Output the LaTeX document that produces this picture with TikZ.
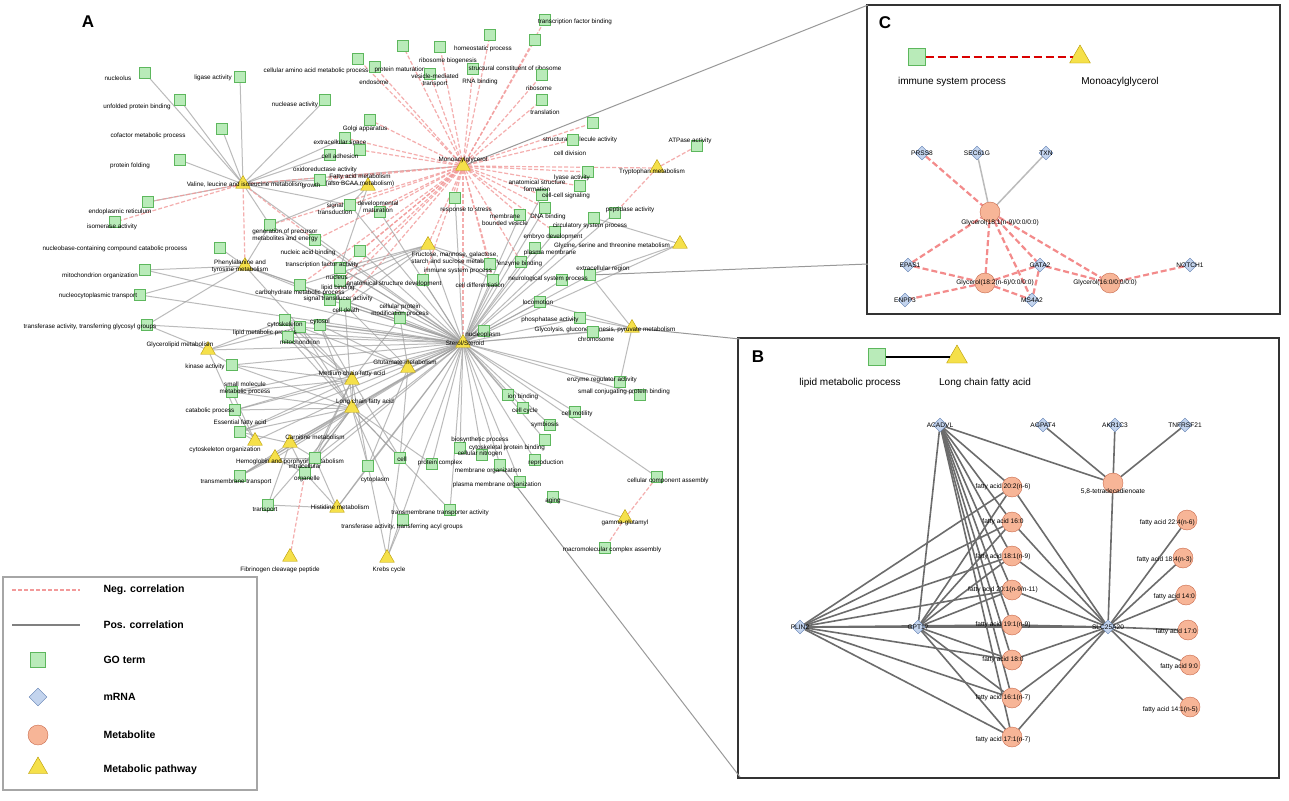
\documentclass[tikz,border=0pt]{standalone}
\usepackage{fontspec}
\setmainfont{Liberation Sans}
\usetikzlibrary{shapes.geometric}
\pgfdeclarelayer{bg}\pgfdeclarelayer{back}\pgfsetlayers{back,bg,main}
\definecolor{gofill}{HTML}{B9EBB9}\definecolor{godraw}{HTML}{5DB75D}
\definecolor{trifill}{HTML}{F5E04A}\definecolor{tridraw}{HTML}{B89A00}
\definecolor{mfill}{HTML}{F7B597}\definecolor{mdraw}{HTML}{C8694A}
\definecolor{dfill}{HTML}{C3D4EE}\definecolor{ddraw}{HTML}{5C7DB0}
\definecolor{negc}{HTML}{F29A9A}
\tikzset{
 go/.style={draw=godraw,fill=gofill,minimum size=11pt,inner sep=0pt},
 tri/.style={regular polygon,regular polygon sides=3,draw=tridraw,fill=trifill,minimum size=17pt,inner sep=0pt},
 met/.style={circle,draw=mdraw,fill=mfill,minimum size=20pt,inner sep=0pt},
 mrna/.style={diamond,draw=ddraw,fill=dfill,minimum size=14pt,inner sep=0pt},
 lbl/.style={font=\fontsize{6.3}{7}\selectfont,align=center,inner sep=0pt},
 posc/.style={draw=gray!75,line width=1pt,opacity=.7},
 neg/.style={draw=negc,dash pattern=on 4pt off 2pt,line width=1.2pt,opacity=.8},
 posB/.style={draw=gray!85!black,line width=1.6pt},
 negC/.style={draw=negc!90!red,dash pattern=on 6pt off 3pt,line width=2.2pt},
 big/.style={font=\bfseries\fontsize{17}{17}\selectfont},
 leg/.style={font=\bfseries\fontsize{10.5}{12}\selectfont,anchor=west},
 box/.style={draw=black!80,line width=1.3pt,fill=white}
}
\newcommand\gt[6]{\node[go](#1) at (#2,#3){};\node[lbl] at (#4,#5){#6};}
\newcommand\pw[6]{\node[tri](#1) at (#2,#3){};\node[lbl] at (#4,#5){#6};}
\begin{document}
\begin{tikzpicture}[x=1pt,y=-1pt]
\useasboundingbox (0,0) rectangle (1289,800);
\begin{pgfonlayer}{back}
\fill[white] (0,0) rectangle (1289,800);
\draw[box] (738,338) rectangle (1279,778);
\draw[box] (867,5) rectangle (1280,314);
\end{pgfonlayer}
% ---------- Panel A nodes
\pw{M}{463}{166}{463}{160}{Monoacylglycerol}
\pw{V}{243}{184}{245}{185}{Valine, leucine and isoleucine metabolism}
\pw{T}{657}{168}{652}{172}{Tryptophan metabolism}
\pw{P}{245}{266}{240}{266}{Phenylalanine and\\tyrosine metabolism}
\pw{G}{680}{244}{612}{246}{Glycine, serine and threonine metabolism}
\pw{F}{428}{245}{455}{258}{Fructose, mannose, galactose,\\starch and sucrose metabolism}
\pw{FA}{368}{186}{360}{180}{Fatty acid metabolism\\(also BCAA metabolism)}
\pw{S}{463}{343}{465}{343}{Sterol/Steroid}
\pw{GL}{632}{328}{605}{330}{Glycolysis, gluconeogenesis, pyruvate metabolism}
\pw{GM}{208}{350}{180}{345}{Glycerolipid metabolism}
\pw{GU}{408}{368}{405}{362}{Glutamate metabolism}
\pw{MC}{352}{380}{352}{374}{Medium chain fatty acid}
\pw{LC}{352}{408}{365}{402}{Long chain fatty acid}
\pw{EF}{255}{441}{240}{423}{Essential fatty acid}
\pw{CA}{290}{443}{315}{437}{Carnitine metabolism}
\pw{HP}{275}{458}{290}{462}{Hemoglobin and porphyrin metabolism}
\pw{HI}{337}{508}{340}{507}{Histidine metabolism}
\pw{FI}{290}{557}{280}{570}{Fibrinogen cleavage peptide}
\pw{KR}{387}{558}{389}{570}{Krebs cycle}
\pw{GG}{625}{518}{625}{523}{gamma-glutamyl}
\gt{g1}{145}{73}{118}{78}{nucleolus}
\gt{g2}{240}{77}{213}{78}{ligase activity}
\gt{g3}{180}{100}{137}{107}{unfolded protein binding}
\gt{g4}{222}{129}{148}{136}{cofactor metabolic process}
\gt{g5}{180}{160}{130}{166}{protein folding}
\gt{g6}{148}{202}{120}{212}{endoplasmic reticulum}
\gt{g7}{115}{222}{112}{227}{isomerase activity}
\gt{g8}{220}{248}{115}{249}{nucleobase-containing compound catabolic process}
\gt{g9}{145}{270}{100}{276}{mitochondrion organization}
\gt{g10}{140}{295}{98}{296}{nucleocytoplasmic transport}
\gt{g11}{147}{325}{90}{327}{transferase activity, transferring glycosyl groups}
\gt{g12}{232}{365}{205}{367}{kinase activity}
\gt{g13}{232}{392}{245}{388}{small molecule\\metabolic process}
\gt{g14}{235}{410}{210}{411}{catabolic process}
\gt{g15}{240}{432}{225}{450}{cytoskeleton organization}
\gt{g16}{240}{476}{236}{482}{transmembrane transport}
\gt{g17}{268}{505}{265}{510}{transport}
\gt{g18}{305}{473}{307}{479}{organelle}
\gt{g19}{315}{458}{305}{466}{intracellular}
\gt{g20}{368}{466}{375}{480}{cytoplasm}
\gt{g21}{400}{458}{402}{459}{cell}
\gt{g22}{432}{464}{440}{463}{protein complex}
\gt{g23}{403}{520}{402}{527}{transferase activity, transferring acyl groups}
\gt{g24}{450}{510}{440}{513}{transmembrane transporter activity}
\gt{g25}{460}{448}{480}{440}{biosynthetic process}
\gt{g26}{482}{455}{480}{454}{cellular nitrogen}
\gt{g27}{500}{465}{488}{471}{membrane organization}
\gt{g28}{520}{482}{497}{485}{plasma membrane organization}
\gt{g29}{535}{460}{546}{463}{reproduction}
\gt{g30}{553}{497}{553}{501}{aging}
\gt{g31}{545}{440}{507}{448}{cytoskeletal protein binding}
\gt{g32}{550}{425}{545}{425}{symbiosis}
\gt{g33}{523}{408}{525}{411}{cell cycle}
\gt{g34}{575}{412}{577}{414}{cell motility}
\gt{g35}{508}{395}{523}{397}{ion binding}
\gt{g36}{620}{382}{602}{380}{enzyme regulator activity}
\gt{g37}{640}{395}{624}{392}{small conjugating protein binding}
\gt{g38}{657}{477}{668}{481}{cellular component assembly}
\gt{g39}{605}{548}{612}{550}{macromolecular complex assembly}
\gt{g40}{580}{318}{550}{320}{phosphatase activity}
\gt{g41}{593}{332}{596}{339}{chromosome}
\gt{g42}{484}{331}{483}{335}{nucleoplasm}
\gt{g43}{540}{302}{538}{302}{locomotion}
\gt{g44}{590}{275}{603}{269}{extracellular region}
\gt{g45}{562}{280}{548}{279}{neurological system process}
\gt{g46}{493}{280}{480}{285}{cell differentiation}
\gt{g47}{490}{264}{458}{271}{immune system process}
\gt{g48}{521}{262}{520}{264}{enzyme binding}
\gt{g49}{535}{248}{550}{253}{plasma membrane}
\gt{g50}{555}{232}{553}{237}{embryo development}
\gt{g51}{594}{218}{590}{226}{circulatory system process}
\gt{g52}{615}{213}{630}{210}{peptidase activity}
\gt{g53}{545}{208}{548}{217}{DNA binding}
\gt{g54}{520}{215}{505}{220}{membrane\\bounded vesicle}
\gt{g55}{542}{195}{537}{186}{anatomical structure\\formation}
\gt{g56}{455}{198}{466}{210}{response to stress}
\gt{g57}{423}{280}{394}{284}{anatomical structure development}
\gt{g58}{400}{318}{400}{310}{cellular protein\\modification process}
\gt{g59}{345}{305}{346}{310}{cell death}
\gt{g60}{320}{325}{320}{322}{cytosol}
\gt{g61}{330}{300}{338}{299}{signal transducer activity}
\gt{g62}{300}{285}{300}{293}{carbohydrate metabolic process}
\gt{g63}{340}{281}{338}{288}{lipid binding}
\gt{g64}{340}{268}{337}{277}{nucleus}
\gt{g65}{300}{327}{265}{333}{lipid metabolic process}
\gt{g66}{285}{320}{285}{325}{cytoskeleton}
\gt{g67}{288}{337}{300}{342}{mitochondrion}
\gt{g68}{360}{251}{322}{265}{transcription factor activity}
\gt{g69}{315}{240}{308}{253}{nucleic acid binding}
\gt{g70}{270}{225}{285}{235}{generation of precursor\\metabolites and energy}
\gt{g71}{350}{205}{335}{209}{signal\\transduction}
\gt{g72}{380}{212}{378}{207}{developmental\\maturation}
\gt{g73}{320}{180}{311}{186}{growth}
\gt{g75}{330}{155}{325}{170}{oxidoreductase activity}
\gt{g76}{360}{150}{340}{156}{cell adhesion}
\gt{g77}{345}{138}{340}{143}{extracellular space}
\gt{g78}{370}{120}{365}{129}{Golgi apparatus}
\gt{g79}{325}{100}{295}{105}{nuclease activity}
\gt{g80}{358}{59}{316}{71}{cellular amino acid metabolic process}
\gt{g81}{375}{67}{374}{82}{endosome}
\gt{g82}{403}{46}{400}{70}{protein maturation}
\gt{g83}{440}{47}{448}{61}{ribosome biogenesis}
\gt{g84}{430}{74}{435}{80}{vesicle-mediated\\transport}
\gt{g85}{473}{69}{480}{82}{RNA binding}
\gt{g86}{490}{35}{483}{49}{homeostatic process}
\gt{g87}{545}{20}{575}{22}{transcription factor binding}
\gt{g88}{535}{40}{515}{68}{structural constituent of ribosome}
\gt{g89}{542}{75}{539}{88}{ribosome}
\gt{g90}{542}{100}{545}{112}{translation}
\gt{g91}{593}{123}{580}{140}{structural molecule activity}
\gt{g92}{573}{140}{570}{153}{cell division}
\gt{g93}{588}{172}{572}{178}{lyase activity}
\gt{g94}{580}{186}{566}{196}{cell-cell signaling}
\gt{g95}{697}{146}{690}{141}{ATPase activity}
\begin{pgfonlayer}{bg}
\foreach \n in {g1,g2,g3,g4,g5,g6,g79,g75,g70,g73,g77,g71,M,S}\path[posc](V)--(\n);
\foreach \n in {g7,g6,P,g69}\path[neg](V)--(\n);
\foreach \n in {g8,g9,g10,g11,g70,g62,g65,S,g61}\path[posc](P)--(\n);
\foreach \n in {g80,g81,g82,g83,g84,g85,g86,g87,g88,g89,g90,g91,g92,g93,g94,g56,g71,g72,g57,g47,g68,g69,g63,g64,g62,g76,g77,g78,g73,g70,g55,g54,g53,g50,g46,g48,T,F,S,g59,g61,V}\path[neg](M)--(\n);
\foreach \n in {g40,g41,g42,g43,g44,g45,g46,g47,g48,g49,g50,g51,g52,g53,g54,g55,g56,g57,g58,g59,g60,g61,g62,g63,g64,g65,g66,g67,g68,g69,g70,g71,g72,g12,g13,g14,g15,g16,g18,g19,g20,g21,g22,g24,g25,g26,g27,g28,g29,g31,g32,g33,g34,g35,g36,g37,g38,g11,GL,MC,LC,GU,CA,EF,HP,HI,F,GM,KR,G,g10,g9}\path[posc](S)--(\n);
\foreach \n in {g11,g12,g65,g14,g66}\path[posc](GM)--(\n);
\foreach \n in {g13,g14,g15,g16,g17,g18,g19,g20,g21,g22,g65,g66,g67,g60,g59,g24,g23,g12,MC,CA}\path[posc](LC)--(\n);
\foreach \n in {g13,g14,g15,g18,g19,g20,g21,g65,g66,g67,g60,g58,g12}\path[posc](MC)--(\n);
\foreach \n in {g65,g60,g58,g59,g21,g20}\path[posc](GU)--(\n);
\foreach \n in {g15,g16,g17,g19,g18}\path[posc](CA)--(\n);
\foreach \n in {g15,g14,g13}\path[posc](EF)--(\n);
\foreach \n in {g16,g18,g19}\path[posc](HP)--(\n);
\foreach \n in {g18,g17,g20,g19}\path[posc](HI)--(\n);
\foreach \n in {g23,g21,g20}\path[posc](KR)--(\n);
\path[neg](FI)--(g18);
\foreach \n in {g38,g39}\path[neg](GG)--(\n);
\path[posc](GG)--(g30);
\foreach \n in {g95,g52}\path[neg](T)--(\n);
\foreach \n in {g51,g44}\path[posc](G)--(\n);
\foreach \n in {g44,g41,g40,g36,g43}\path[posc](GL)--(\n);
\foreach \n in {g64,g60,g61,g63,g62,g46,g47}\path[posc](F)--(\n);
\foreach \n in {g64,g73,g71,g70}\path[posc](FA)--(\n);
\draw[gray!80,line width=1pt] (M)--(868,5);
\draw[gray!80,line width=1pt] (g44)--(868,264);
\draw[gray!80,line width=1pt] (GL)--(740,339);
\draw[gray!80,line width=1pt] (g27)--(740,777);
\end{pgfonlayer}
\node[big] at (88,22) {A};
% ---------- Legend
\draw[gray!70,line width=1.3pt] (3,577) rectangle (257,790);
\draw[neg,opacity=1] (12,590)--(80,590); \node[leg] at (100,590){Neg. correlation};
\draw[draw=gray,line width=1.6pt] (12,625)--(80,625); \node[leg] at (100,625){Pos. correlation};
\node[go,minimum size=15pt] at (38,660){}; \node[leg] at (100,660){GO term};
\node[mrna,minimum size=18pt] at (38,697){}; \node[leg] at (100,697){mRNA};
\node[met] at (38,735){}; \node[leg] at (100,735){Metabolite};
\node[tri,minimum size=22pt] at (38,768){}; \node[leg] at (100,770){Metabolic pathway};
% ---------- Panel B
\node[big] at (758,357){B};
\node[go,minimum size=17pt](lb1) at (877,357){};
\node[tri,minimum size=24pt](lb2) at (957,357){};
\draw[line width=2pt] (lb1)--(lb2);
\node[font=\fontsize{10}{12}\selectfont] at (850,383){lipid metabolic process};
\node[font=\fontsize{10}{12}\selectfont] at (985,383){Long chain fatty acid};
\node[mrna](ACADVL) at (940,425){};
\node[mrna](AGPAT4) at (1043,425){};
\node[mrna](AKR1C3) at (1115,425){};
\node[mrna](TNF) at (1185,425){};
\node[mrna](PLIN2) at (800,627){};
\node[mrna](GPT1) at (918,627){};
\node[mrna](SLC) at (1108,627){};
\foreach \i/\y in {1/487,2/522,3/556,4/590,5/625,6/660,7/698,8/737}\node[met](m\i) at (1012,\y){};
\node[met](t58) at (1113,483){};
\node[met](r1) at (1187,520){};
\node[met](r2) at (1183,558){};
\node[met](r3) at (1186,595){};
\node[met](r4) at (1188,630){};
\node[met](r5) at (1190,665){};
\node[met](r6) at (1190,707){};
\begin{pgfonlayer}{bg}
\foreach \i in {1,...,8}{\path[posB](SLC)--(m\i);\path[posB](GPT1)--(m\i);\path[posB](PLIN2)--(m\i);\path[posB](ACADVL)--(m\i);}
\foreach \i in {1,...,6}\path[posB](SLC)--(r\i);
\path[posB](SLC)--(t58);\path[posB](GPT1)--(ACADVL);\path[posB](PLIN2)--(GPT1);\path[posB](GPT1)--(SLC);
\foreach \n in {ACADVL,AGPAT4,AKR1C3,TNF}\path[posB](t58)--(\n);
\end{pgfonlayer}
\tikzset{bl/.style={lbl,font=\fontsize{6.6}{8}\selectfont}}
\node[bl] at (940,425){ACADVL};\node[bl] at (1043,425){AGPAT4};\node[bl] at (1115,425){AKR1C3};\node[bl] at (1185,425){TNFRSF21};
\node[bl] at (800,627){PLIN2};\node[bl] at (918,627){GPT1?};\node[bl] at (1108,627){SLC25A20};
\node[bl] at (1003,487){fatty acid 20:2(n-6)};\node[bl] at (1003,522){fatty acid 16:0};
\node[bl] at (1003,557){fatty acid 18:1(n-9)};\node[bl] at (1003,590){fatty acid 20:1(n-9/n-11)};
\node[bl] at (1003,625){fatty acid 19:1(n-9)};\node[bl] at (1003,660){fatty acid 18:0};
\node[bl] at (1003,698){fatty acid 16:1(n-7)};\node[bl] at (1003,740){fatty acid 17:1(n-7)};
\node[bl] at (1113,492){5,8-tetradecadienoate};
\node[bl,anchor=east] at (1195,523){fatty acid 22:4(n-6)};\node[bl,anchor=east] at (1192,560){fatty acid 18:4(n-3)};
\node[bl,anchor=east] at (1195,597){fatty acid 14:0};\node[bl,anchor=east] at (1197,632){fatty acid 17:0};
\node[bl,anchor=east] at (1198,667){fatty acid 9:0};\node[bl,anchor=east] at (1198,710){fatty acid 14:1(n-5)};
% ---------- Panel C
\node[big] at (885,23){C};
\node[go,minimum size=17pt](lc1) at (917,57){};
\node[tri,minimum size=24pt](lc2) at (1080,57){};
\draw[red!85!black,dash pattern=on 8pt off 4pt,line width=2pt] (lc1)--(lc2);
\node[font=\fontsize{10}{12}\selectfont] at (952,82){immune system process};
\node[font=\fontsize{10}{12}\selectfont] at (1120,82){Monoacylglycerol};
\node[mrna](PRSS8) at (922,153){};\node[mrna](SEC) at (977,153){};\node[mrna](TXN) at (1046,153){};
\node[mrna](EPAS1) at (908,265){};\node[mrna](GATA2) at (1040,265){};\node[mrna](NOTCH1) at (1190,265){};
\node[mrna](ENPP3) at (905,300){};\node[mrna](MS4A2) at (1032,300){};
\node[met](c1) at (990,212){};\node[met](c2) at (985,283){};\node[met](c3) at (1110,283){};
\begin{pgfonlayer}{bg}
\path[posc,line width=1.5pt](SEC)--(c1);\path[posc,line width=1.5pt](TXN)--(c1);
\foreach \a/\b in {PRSS8/c1,EPAS1/c1,c1/GATA2,c1/c2,c1/MS4A2,c1/c3,EPAS1/c2,c2/ENPP3,GATA2/c2,GATA2/c3,GATA2/MS4A2,NOTCH1/c3,c2/MS4A2}\path[negC](\a)--(\b);
\end{pgfonlayer}
\node[bl] at (922,153){PRSS8};\node[bl] at (977,153){SEC61G};\node[bl] at (1046,153){TXN};
\node[bl] at (910,265){EPAS1};\node[bl] at (1040,265){GATA2};\node[bl] at (1190,265){NOTCH1};
\node[bl] at (905,300){ENPP3};\node[bl] at (1032,300){MS4A2};
\node[bl] at (1000,223){Glycerol(18:1(n-9)/0:0/0:0)};
\node[bl] at (995,283){Glycerol(18:2(n-6)/0:0/0:0)};
\node[bl] at (1105,283){Glycerol(16:0/0:0/0:0)};
\end{tikzpicture}
\end{document}
